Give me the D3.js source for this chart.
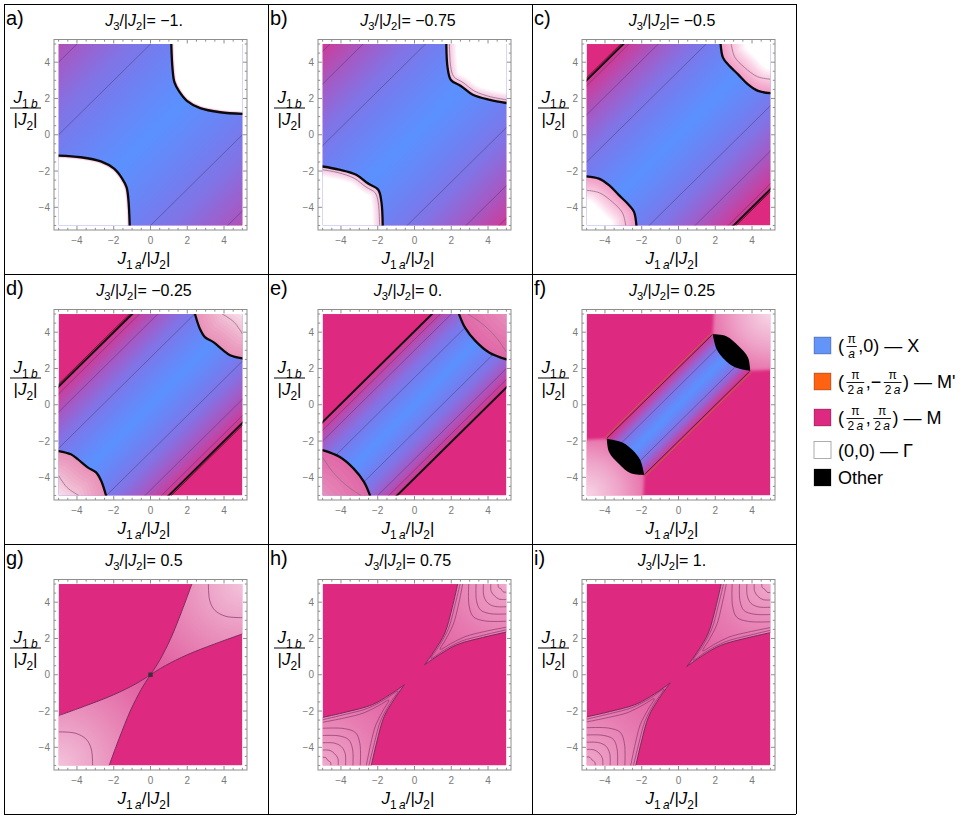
<!DOCTYPE html>
<html><head><meta charset="utf-8">
<script src="https://cdn.jsdelivr.net/npm/d3@7"></script>
<style>
body{margin:0;background:#fff}
svg{display:block}
text{font-family:"Liberation Sans",Arial,Helvetica,sans-serif}
</style>
</head><body>
<svg id="chart" width="978" height="821"></svg>
<script>
// ================= DATA =================
const panelLetters = ["a)","b)","c)","d)","e)","f)","g)","h)","i)"];
const j3Labels = ["\u22121.","\u22120.75","\u22120.5","\u22120.25","0.","0.25","0.5","0.75","1."];
const majorTicks = [-4,-2,0,2,4];
const minorTicks = [-5,-4.5,-3.5,-3,-2.5,-1.5,-1,-0.5,0.5,1,1.5,2.5,3,3.5,4.5,5];

// half width |J1b-J1a| of the X band at its M boundary (null = band fills the plot)
const bandEdge = [null,null,8,6,4.05];
// |J1b-J1a| at which the X shading has turned fully magenta
const colourSpan = [12.5,10.5,8.2,6.1,4.1,2.05];
// offsets J1b-J1a of the contour lines inside the X band
const xContours = [
  [9.0,5.0,-5.0,-9.2],
  [9.6,7.8,4.4,-4.6,-7.8,-9.6],
  [7.7,6.1,3.5,-3.4,-5.9,-7.7],
  [5.6,4.6,2.6,-2.6,-4.7,-5.6],
  [3.6,3.0,1.5,-1.5,-3.0,-3.6],
  [1.0,-1.0]
];
// upper-right X|Γ boundary (lower-left one is its image under (x,y)->(-x,-y))
const gammaEdge = [
  [[1.13,5],[1.2,3.6],[1.3,2.9],[1.55,2.4],[1.98,1.87],[2.7,1.47],[3.79,1.24],[5,1.15]],
  [[1.73,5],[1.8,3.7],[1.98,3.02],[2.52,2.69],[3.17,2.2],[4.1,1.92],[5,1.75]],
  [[2.29,5],[2.42,4.25],[2.69,3.88],[3.24,3.33],[3.78,2.78],[4.33,2.42],[5,2.29]],
  [[2.42,5],[2.69,4.18],[2.96,3.73],[3.42,3.45],[3.96,3.0],[4.33,2.73],[5,2.55]],
  [[2.42,5],[2.75,4.25],[3.31,3.52],[4.06,2.88],[5,2.5]]
];
// grey contour inside the Γ corner
const gammaInner = [
  null,
  [[1.9,5],[1.97,3.75],[2.14,3.2],[2.64,2.88],[3.28,2.4],[4.15,2.09],[5,1.93]],
  [[2.87,5],[3.05,4.3],[3.6,3.7],[4.3,3.2],[5,3.06]],
  [[3.9,5],[4.55,4.55],[5,3.9]],
  [[2.9,5],[3.7,4.45],[4.45,3.7],[5,2.9]]
];
// panel f: truncated X band, "Other" cap and light corner
const fBand = [[-3.9,-1.85],[1.86,3.88],[3.9,1.87],[-1.86,-3.85]];
const fCapOuter = [[1.86,3.88],[2.6,3.78],[3.25,3.25],[3.78,2.6],[3.9,1.87]];
const fCapInner = [[3.9,1.87],[3.05,2.08],[2.5,2.5],[2.08,3.05],[1.86,3.88]];
const fLight = [[1.86,3.88],[1.95,5.6],[5.6,5.6],[5.6,1.95],[3.9,1.87]];
// panels g,h,i: light M wedge (upper-right; lower-left is its inversion image)
const wedgeSteep = [
  [[0,0],[0.5,0.8],[1.1,2.0],[1.7,3.5],[2.25,5]],
  [[0.55,0.55],[1.1,1.35],[1.65,2.3],[2.05,3.7],[2.35,5]],
  [[0.45,0.45],[1.05,1.3],[1.62,2.3],[2.02,3.7],[2.32,5]]
];
const wedgeShallow = [
  [[0,0],[0.8,0.5],[2.0,1.1],[3.5,1.7],[5,2.25]],
  [[0.55,0.55],[1.35,1.1],[2.3,1.65],[3.7,2.05],[5,2.35]],
  [[0.45,0.45],[1.3,1.05],[2.3,1.62],[3.7,2.02],[5,2.32]]
];
const wedgeContours = [
  [
    [[3.15,5],[3.22,4.1],[3.5,3.55],[4.1,3.22],[5,3.15]]
  ],
  [
    [[2.48,5],[2.18,3.75],[1.85,2.55],[1.35,1.6],[0.9,0.9],[1.6,1.35],[2.55,1.85],[3.75,2.18],[5,2.48]],
    [[2.62,5],[2.38,3.8],[2.1,2.75],[1.7,1.95],[1.4,1.4],[1.95,1.7],[2.75,2.1],[3.8,2.38],[5,2.62]],
    [[2.95,5],[2.97,3.8],[3.2,3.2],[3.8,2.97],[5,2.95]],
    [[3.35,5],[3.37,4.1],[3.58,3.58],[4.1,3.37],[5,3.35]],
    [[3.75,5],[3.77,4.35],[3.97,3.97],[4.35,3.77],[5,3.75]],
    [[4.15,5],[4.17,4.6],[4.35,4.35],[4.6,4.17],[5,4.15]],
    [[4.55,5],[4.57,4.82],[4.72,4.72],[4.82,4.57],[5,4.55]]
  ],
  [
    [[2.45,5],[2.15,3.75],[1.82,2.55],[1.3,1.55],[0.8,0.8],[1.55,1.3],[2.55,1.82],[3.75,2.15],[5,2.45]],
    [[2.6,5],[2.35,3.8],[2.08,2.75],[1.66,1.92],[1.32,1.32],[1.92,1.66],[2.75,2.08],[3.8,2.35],[5,2.6]],
    [[2.92,5],[2.94,3.8],[3.17,3.17],[3.8,2.94],[5,2.92]],
    [[3.32,5],[3.34,4.1],[3.55,3.55],[4.1,3.34],[5,3.32]],
    [[3.72,5],[3.74,4.35],[3.94,3.94],[4.35,3.74],[5,3.72]],
    [[4.12,5],[4.14,4.6],[4.32,4.32],[4.6,4.14],[5,4.12]],
    [[4.53,5],[4.55,4.82],[4.7,4.7],[4.82,4.55],[5,4.53]]
  ]
];
// legend
const legendColors = ["#6394F7","#FF6212","#DD297F","#FFFFFF","#000000"];
const legendLabels = [
  [{t:"("},{n:"\u03C0",d:"a"},{t:",0) \u2014 X"}],
  [{t:"("},{n:"\u03C0",d:"2 a"},{t:",\u2212"},{n:"\u03C0",d:"2 a"},{t:") \u2014 M'"}],
  [{t:"("},{n:"\u03C0",d:"2 a"},{t:","},{n:"\u03C0",d:"2 a"},{t:") \u2014 M"}],
  [{t:"(0,0) \u2014 \u0393"}],
  [{t:"Other"}]
];

// ================= STYLE / LAYOUT =================
const M_COLOR = "#DD297F";
const xRamp = d3.scaleLinear().domain([0,0.45,0.75,1])
  .range(["#5A91FF","#7A78EC","#A857C2","#D8348C"]).interpolate(d3.interpolateRgb);
const haloWidth = [0.15,0.55,1.3,2.6,4.0];
const haloStrength = [0.5,0.35,0.5,0.6,0.72];
const gammaBase = ["#FFFFFF","#FFFFFF","#FFFFFF","#FFFFFF","#F4CFE0"];
const radialSpec = {
  5:{r:4.6, stops:[[0,"#F7D6E6"],[0.4,"#EEA3C8"],[1,"#E0428F"]]},
  6:{r:7.0, stops:[[0,"#F3C2DA"],[0.4,"#EA95BF"],[1,"#E0549A"]]},
  7:{r:6.5, stops:[[0,"#EFA9CB"],[0.45,"#E77DB2"],[1,"#E0559B"]]},
  8:{r:6.5, stops:[[0,"#EFA9CB"],[0.45,"#E77DB2"],[1,"#E0559B"]]}
};
const panelW = 264, panelH = 270, gridX0 = 4, gridY0 = 4;

const svg = d3.select("#chart");
const defs = svg.append("defs");
defs.append("filter").attr("id","soft").attr("x","-10%").attr("y","-10%").attr("width","120%").attr("height","120%")
  .append("feGaussianBlur").attr("stdDeviation",1.6);

function rich(sel, parts, size){
  let shift = 0;
  parts.forEach(p=>{
    const ts = sel.append("tspan").text(p.t);
    if(p.i) ts.attr("font-style","italic");
    const want = p.sub ? size*0.28 : 0;
    if(want!==shift){ ts.attr("dy", want-shift); shift = want; }
    if(p.sub) ts.attr("font-size", size*0.7);
  });
}

panelLetters.forEach((letter,i)=>{
  const col = i%3, row = Math.floor(i/3);
  const pl = gridX0 + col*panelW, pt = gridY0 + row*panelH;
  const x = d3.scaleLinear().domain([-5.25,5.25]).range([pl+50,pl+243]);
  const y = d3.scaleLinear().domain([-5.25,5.25]).range([pt+226,pt+35.5]);
  const line = d3.line().x(d=>x(d[0])).y(d=>y(d[1]));
  const smooth = d3.line().x(d=>x(d[0])).y(d=>y(d[1])).curve(d3.curveCatmullRom.alpha(0.5));
  const cx = x(0), cy = y(0);
  const rot = `rotate(180 ${cx} ${cy})`;

  defs.append("clipPath").attr("id","dc"+i).append("rect")
    .attr("x",x(-5)).attr("y",y(5)).attr("width",x(5)-x(-5)).attr("height",y(-5)-y(5));
  const plot = svg.append("g").attr("clip-path",`url(#dc${i})`);
  plot.append("rect").attr("x",x(-5)).attr("y",y(5)).attr("width",x(5)-x(-5)).attr("height",y(-5)-y(5))
    .attr("fill",M_COLOR);

  // ---- X band ----
  if(i<=5){
    const s = colourSpan[i];
    const lg = defs.append("linearGradient").attr("id","xg"+i).attr("gradientUnits","userSpaceOnUse")
      .attr("x1",x(-s/2)).attr("y1",y(s/2)).attr("x2",x(s/2)).attr("y2",y(-s/2));
    [1,0.85,0.7,0.5,0.3,0.15,0].forEach(t=>lg.append("stop").attr("offset",0.5-t/2).attr("stop-color",xRamp(t)));
    [0.15,0.3,0.5,0.7,0.85,1].forEach(t=>lg.append("stop").attr("offset",0.5+t/2).attr("stop-color",xRamp(t)));
    let bandPoly;
    if(i<5){
      const e = bandEdge[i]===null ? 40 : bandEdge[i];
      bandPoly = [[-30,-30+e],[30,30+e],[30,30-e],[-30,-30-e]];
    } else bandPoly = fBand;
    const bandD = line(bandPoly)+"Z";
    plot.append("path").attr("d",bandD).attr("fill",`url(#xg${i})`);
    defs.append("clipPath").attr("id","bc"+i).append("path").attr("d",bandD);
    const cl = plot.append("g").attr("clip-path",`url(#bc${i})`);
    xContours[i].forEach(o=>{
      cl.append("path").attr("d",line([[-30,-30+o],[30,30+o]]))
        .attr("stroke","#3b3360").attr("stroke-opacity",0.55).attr("stroke-width",0.8).attr("fill","none");
    });
    if(i<5 && bandEdge[i]!==null){
      const e = bandEdge[i];
      [1,-1].forEach(sg=>{
        if(i===2||i===3){
          plot.append("path").attr("d",line([[-30,-30+sg*(e+0.14)],[30,30+sg*(e+0.14)]]))
            .attr("stroke","#6a1630").attr("stroke-width",1).attr("fill","none");
        }
        plot.append("path").attr("d",line([[-30,-30+sg*e],[30,30+sg*e]]))
          .attr("stroke","#111").attr("stroke-width",2).attr("fill","none");
      });
    }
    if(i===5){
      [[fBand[0],fBand[1]],[fBand[3],fBand[2]]].forEach((ed,k)=>{
        const off = k===0 ? -1.3 : 1.3;
        plot.append("path").attr("d",line(ed)).attr("transform",`translate(${off},${off})`)
          .attr("stroke","#B8702E").attr("stroke-width",1).attr("fill","none");
        plot.append("path").attr("d",line(ed))
          .attr("stroke","#4a2342").attr("stroke-width",1).attr("fill","none");
      });
    }
  }

  // ---- Γ corners (a–e) ----
  if(i<=4){
    const pts = gammaEdge[i], p0 = pts[0], pN = pts[pts.length-1];
    const curve = `M${x(p0[0])},${y(6)}` + smooth(pts).replace(/^M/,"L") + `L${x(6)},${y(pN[1])}`;
    const region = curve + `L${x(6)},${y(6)}Z`;
    defs.append("clipPath").attr("id","gc"+i).append("path").attr("d",region);
    const N = 14, a = 1-Math.pow(1-haloStrength[i],1/N);
    const Wpx = haloWidth[i]*(x(1)-x(0))*2;
    [null,rot].forEach(tr=>{
      const g = plot.append("g"); if(tr) g.attr("transform",tr);
      const gg = g.append("g").attr("clip-path",`url(#gc${i})`);
      gg.append("path").attr("d",region).attr("fill",gammaBase[i]);
      for(let k=1;k<=N;k++){
        gg.append("path").attr("d",curve).attr("fill","none").attr("stroke","#E04A95")
          .attr("stroke-opacity",a).attr("stroke-width",Wpx*k/N).attr("stroke-linejoin","round");
      }
      if(gammaInner[i]) gg.append("path").attr("d",smooth(gammaInner[i])).attr("fill","none")
        .attr("stroke","#8c6a80").attr("stroke-width",0.9).attr("stroke-opacity",0.85);
      g.append("path").attr("d",curve).attr("fill","none").attr("stroke","#0a0a0a")
        .attr("stroke-width",2.3).attr("stroke-linejoin","round");
    });
  }

  // ---- radial gradients for light M corners ----
  if(i>=5){
    const spec = radialSpec[i];
    const rg = defs.append("radialGradient").attr("id","rg"+i).attr("gradientUnits","userSpaceOnUse")
      .attr("cx",x(5)).attr("cy",y(5)).attr("r",spec.r*(x(1)-x(0)));
    spec.stops.forEach(s=>rg.append("stop").attr("offset",s[0]).attr("stop-color",s[1]));
  }

  // ---- panel f: light corners + "Other" caps ----
  if(i===5){
    const capD = smooth(fCapOuter) + smooth(fCapInner).replace(/^M/,"L") + "Z";
    [null,rot].forEach(tr=>{
      const g = plot.append("g"); if(tr) g.attr("transform",tr);
      g.append("path").attr("d",line(fLight)+"Z").attr("fill","url(#rg5)").attr("filter","url(#soft)");
      g.append("path").attr("d",capD).attr("fill","#000");
    });
  }

  // ---- panels g,h,i: light wedges with contours ----
  if(i>=6){
    const w = i-6, st = wedgeSteep[w], sh = wedgeShallow[w];
    const top = st[st.length-1], right = sh[sh.length-1];
    const wedgeD = smooth(st) + `L${x(top[0])},${y(6)}L${x(6)},${y(6)}L${x(6)},${y(right[1])}`
      + smooth(sh.slice().reverse()).replace(/^M/,"L") + "Z";
    [null,rot].forEach(tr=>{
      const g = plot.append("g"); if(tr) g.attr("transform",tr);
      g.append("path").attr("d",wedgeD).attr("fill",`url(#rg${i})`);
      wedgeContours[w].forEach(c=>{
        g.append("path").attr("d",smooth(c)).attr("fill","none").attr("stroke","#8a3a6c")
          .attr("stroke-width",0.85).attr("stroke-opacity",0.85);
      });
      [st,sh].forEach(c=>g.append("path").attr("d",smooth(c)).attr("fill","none")
        .attr("stroke","#7a2c5e").attr("stroke-width",1));
    });
    if(i===6){
      plot.append("rect").attr("x",cx-2.2).attr("y",cy-2.2).attr("width",4.4).attr("height",4.4)
        .attr("fill","#3a3038");
    }
  }

  // ---- frame & ticks ----
  const fx0 = x(-5.25), fx1 = x(5.25), fy0 = y(5.25), fy1 = y(-5.25);
  const fr = svg.append("g").attr("stroke","#8e8e8e").attr("stroke-width",1).attr("fill","none");
  fr.append("rect").attr("x",fx0).attr("y",fy0).attr("width",fx1-fx0).attr("height",fy1-fy0);
  const tickSets = [[majorTicks,4],[minorTicks,2.2]];
  tickSets.forEach(([ts,len])=>{
    ts.forEach(t=>{
      fr.append("line").attr("x1",x(t)).attr("x2",x(t)).attr("y1",fy1).attr("y2",fy1-len);
      fr.append("line").attr("x1",x(t)).attr("x2",x(t)).attr("y1",fy0).attr("y2",fy0+len);
      fr.append("line").attr("y1",y(t)).attr("y2",y(t)).attr("x1",fx0).attr("x2",fx0+len);
      fr.append("line").attr("y1",y(t)).attr("y2",y(t)).attr("x1",fx1).attr("x2",fx1-len);
    });
  });
  const fmt = t => t<0 ? "\u2212"+(-t) : String(t);
  majorTicks.forEach(t=>{
    svg.append("text").attr("x",x(t)).attr("y",fy1+13.5).attr("text-anchor","middle")
      .attr("font-size",10).attr("fill","#7a7a7a").text(fmt(t));
    svg.append("text").attr("x",fx0-4).attr("y",y(t)+3.5).attr("text-anchor","end")
      .attr("font-size",10).attr("fill","#7a7a7a").text(fmt(t));
  });

  // ---- texts ----
  svg.append("text").attr("x",pl+2).attr("y",pt+21).attr("font-size",20).text(letter);
  const title = svg.append("text").attr("x",pl+140).attr("y",pt+21.5).attr("text-anchor","middle").attr("font-size",16);
  rich(title,[{t:"J",i:1},{t:"3",sub:1},{t:"/|"},{t:"J",i:1},{t:"2",sub:1},{t:"|= "+j3Labels[i]}],16);
  const xl = svg.append("text").attr("x",pl+140).attr("y",pt+260).attr("text-anchor","middle").attr("font-size",17);
  rich(xl,[{t:"J",i:1},{t:"1\u2009",sub:1},{t:"a",sub:1,i:1},{t:"/|"},{t:"J",i:1},{t:"2",sub:1},{t:"|"}],17);
  const yn = svg.append("text").attr("x",pl+21.5).attr("y",pt+99).attr("text-anchor","middle").attr("font-size",17);
  rich(yn,[{t:"J",i:1},{t:"1\u2009",sub:1},{t:"b",sub:1,i:1}],17);
  svg.append("line").attr("x1",pl+6).attr("x2",pl+37).attr("y1",pt+104).attr("y2",pt+104).attr("stroke","#000");
  const yd = svg.append("text").attr("x",pl+21.5).attr("y",pt+121).attr("text-anchor","middle").attr("font-size",17);
  rich(yd,[{t:"|"},{t:"J",i:1},{t:"2",sub:1},{t:"|"}],17);
});

// ---- grid borders ----
const gb = svg.append("g").attr("stroke","#000").attr("stroke-width",1).attr("shape-rendering","crispEdges");
[0,1,2,3].forEach(k=>{
  gb.append("line").attr("x1",gridX0+k*panelW).attr("x2",gridX0+k*panelW).attr("y1",gridY0).attr("y2",gridY0+3*panelH);
  gb.append("line").attr("y1",gridY0+k*panelH).attr("y2",gridY0+k*panelH).attr("x1",gridX0).attr("x2",gridX0+3*panelW);
});

// ---- legend ----
const legendRowY = [345.5,381.5,417.5,450,477.5];
const lgX = 814, sw = 17, txtX = 838;
legendLabels.forEach((parts,k)=>{
  const cyL = legendRowY[k];
  svg.append("rect").attr("x",lgX).attr("y",cyL-sw/2).attr("width",sw).attr("height",sw)
    .attr("fill",legendColors[k]).attr("stroke",k===3?"#9a9a9a":"rgba(0,0,0,0.3)").attr("stroke-width",0.8);
  let cx = txtX;
  parts.forEach(p=>{
    if(p.t!==undefined){
      const t = svg.append("text").attr("x",cx).attr("y",cyL+6.5).attr("font-size",18).text(p.t);
      cx += t.node().getComputedTextLength() + 1;
    } else {
      cx += 1;
      const num = svg.append("text").attr("y",cyL-2.5).attr("font-size",12).attr("text-anchor","middle").text(p.n);
      const den = svg.append("text").attr("y",cyL+12.5).attr("font-size",12).attr("text-anchor","middle");
      if(p.d==="a") den.append("tspan").attr("font-style","italic").text("a");
      else { den.append("tspan").text("2\u2009"); den.append("tspan").attr("font-style","italic").text("a"); }
      const wN = num.node().getComputedTextLength(), wD = den.node().getComputedTextLength();
      const wF = Math.max(wN,wD)+3;
      num.attr("x",cx+wF/2); den.attr("x",cx+wF/2);
      svg.append("line").attr("x1",cx+0.5).attr("x2",cx+wF-0.5).attr("y1",cyL+1).attr("y2",cyL+1)
        .attr("stroke","#000").attr("stroke-width",0.9);
      cx += wF + 1;
    }
  });
});
</script>
</body></html>
